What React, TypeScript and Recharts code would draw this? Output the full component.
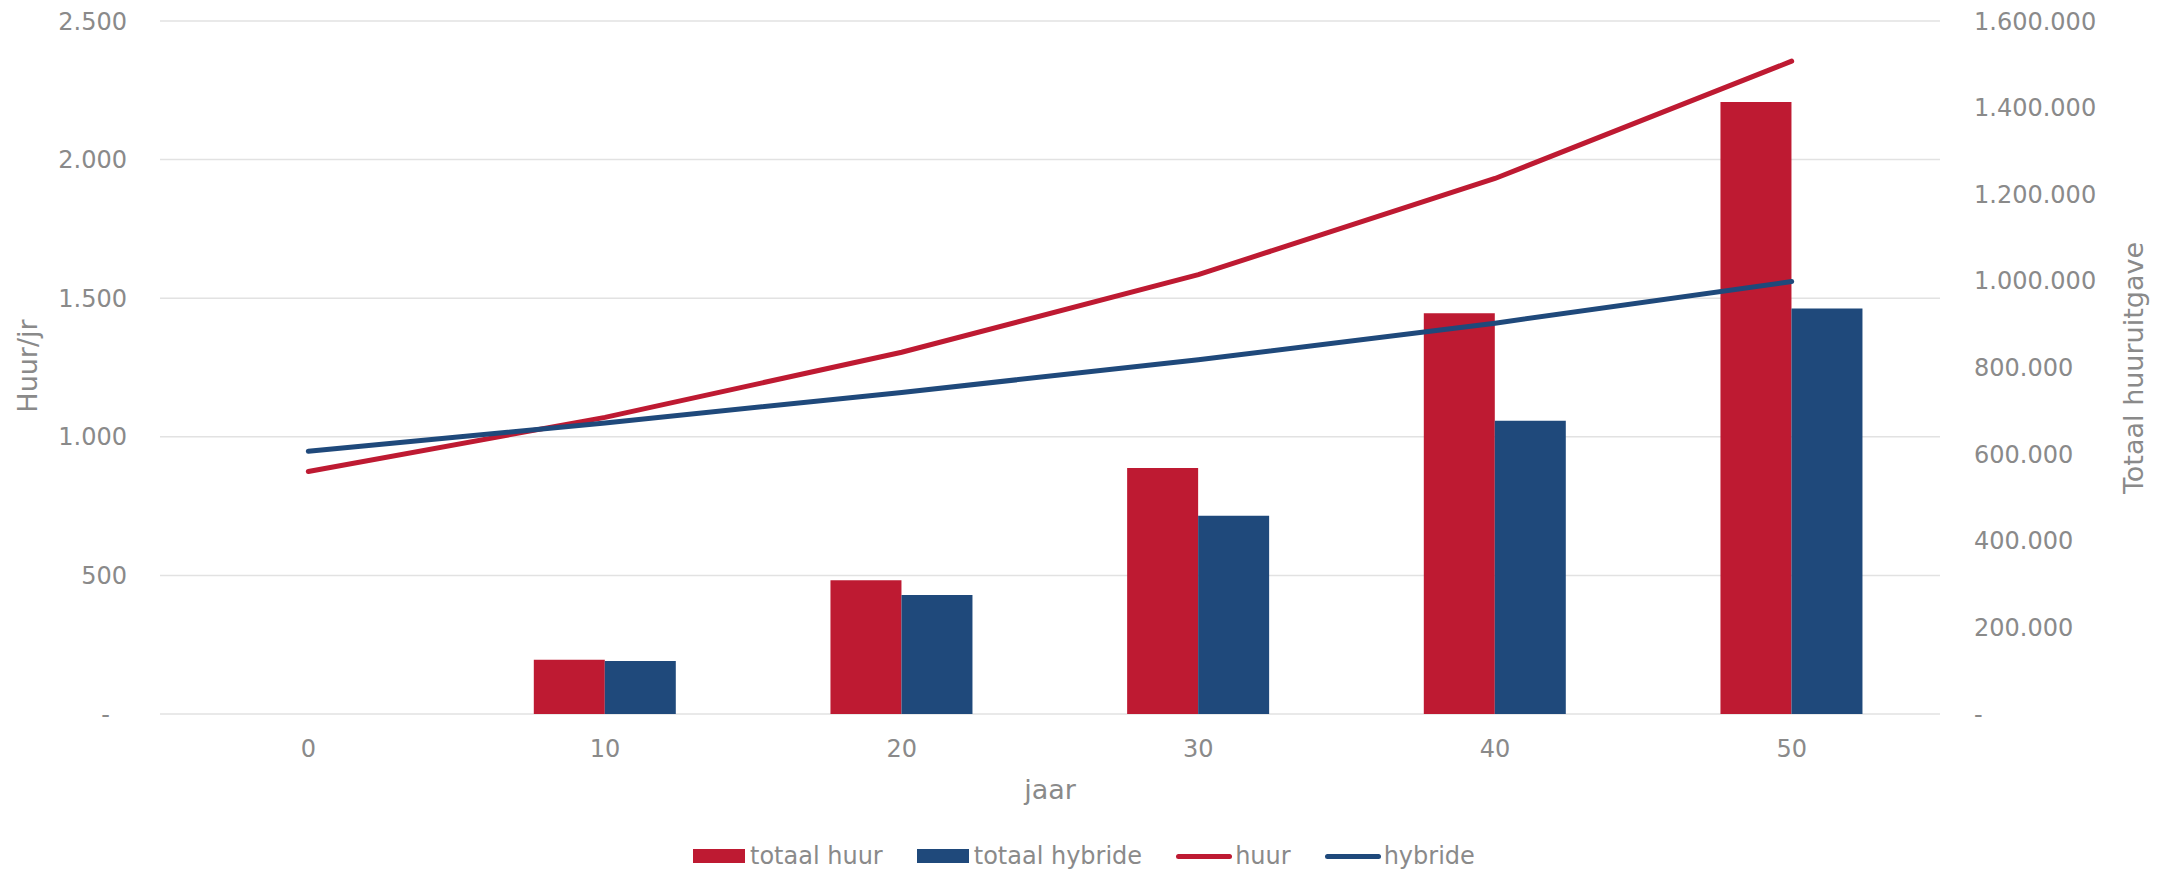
import React from "react";
import {
  ComposedChart,
  Bar,
  Line,
  XAxis,
  YAxis,
  CartesianGrid,
} from "recharts";

// years on the horizontal axis
const jaren = ["0", "10", "20", "30", "40", "50"];

// yearly rent (left axis)
const huur = [875, 1070, 1305, 1585, 1932, 2355];
const hybride = [948, 1050, 1160, 1278, 1410, 1560];

// cumulative spend (right axis)
const totaalHuur = [0, 125000, 309000, 568000, 925000, 1413000];
const totaalHybride = [0, 122500, 275000, 458000, 677000, 936000];

const leftTicks = [0, 500, 1000, 1500, 2000, 2500];
const rightTicks = [0, 200000, 400000, 600000, 800000, 1000000, 1200000, 1400000, 1600000];

const RED = "#BE1A32";
const BLUE = "#1F497B";
const GREY = "#8A8A8A";
const FONT = "'DejaVu Sans', Verdana, sans-serif";

const data = jaren.map((jaar, i) => ({
  jaar,
  huur: huur[i],
  hybride: hybride[i],
  totaalHuur: totaalHuur[i],
  totaalHybride: totaalHybride[i],
}));

// Dutch-style number: thousands with dots, zero shown as a dash
const fmt = (v: number) =>
  v === 0 ? "-" : String(v).replace(/\B(?=(\d{3})+(?!\d))/g, ".");

const LeftTick = (props: any) => {
  const { x, y, payload } = props;
  const zero = payload.value === 0;
  return (
    <text
      x={x}
      y={y}
      dx={zero ? -17 : 0}
      dy="0.36em"
      textAnchor="end"
      fill={GREY}
      fontSize={24}
      fontFamily={FONT}
    >
      {fmt(payload.value)}
    </text>
  );
};

const tickStyle = { fill: GREY, fontSize: 24, fontFamily: FONT };

const titleStyle: React.CSSProperties = {
  position: "absolute",
  color: GREY,
  fontSize: 27,
  fontFamily: FONT,
  whiteSpace: "nowrap",
  lineHeight: 1,
};

const legendItems = [
  { label: "totaal huur", color: RED, kind: "bar" },
  { label: "totaal hybride", color: BLUE, kind: "bar" },
  { label: "huur", color: RED, kind: "line" },
  { label: "hybride", color: BLUE, kind: "line" },
];

export default function App() {
  return (
    <div
      style={{
        position: "absolute",
        left: 0,
        top: 0,
        width: 2176,
        height: 872,
        background: "#fff",
        fontFamily: FONT,
      }}
    >
      <ComposedChart
        width={2176}
        height={872}
        data={data}
        margin={{ top: 21, right: 0, bottom: 0, left: 0 }}
        barCategoryGap="26%"
        barGap={0}
      >
        <CartesianGrid
          yAxisId="left"
          vertical={false}
          stroke="#E2E2E2"
          strokeWidth={1.5}
        />
        <XAxis
          dataKey="jaar"
          height={158}
          axisLine={false}
          tickLine={false}
          tickSize={0}
          tickMargin={26}
          tick={tickStyle}
        />
        <YAxis
          yAxisId="left"
          orientation="left"
          width={160}
          domain={[0, 2500]}
          ticks={leftTicks}
          axisLine={false}
          tickLine={false}
          tickSize={0}
          tickMargin={33}
          tick={<LeftTick />}
        />
        <YAxis
          yAxisId="right"
          orientation="right"
          width={236}
          domain={[0, 1600000]}
          ticks={rightTicks}
          tickFormatter={fmt}
          axisLine={false}
          tickLine={false}
          tickSize={0}
          tickMargin={34}
          tick={tickStyle}
        />
        <Bar yAxisId="right" dataKey="totaalHuur" fill={RED} isAnimationActive={false} />
        <Bar yAxisId="right" dataKey="totaalHybride" fill={BLUE} isAnimationActive={false} />
        <Line
          yAxisId="left"
          type="linear"
          dataKey="huur"
          stroke={RED}
          strokeWidth={5}
          strokeLinecap="round"
          dot={false}
          activeDot={false}
          isAnimationActive={false}
        />
        <Line
          yAxisId="left"
          type="linear"
          dataKey="hybride"
          stroke={BLUE}
          strokeWidth={5}
          strokeLinecap="round"
          dot={false}
          activeDot={false}
          isAnimationActive={false}
        />
      </ComposedChart>

      {/* axis titles */}
      <div
        style={{
          ...titleStyle,
          left: 27,
          top: 366,
          transform: "translate(-50%, -50%) rotate(-90deg)",
        }}
      >
        Huur/jr
      </div>
      <div
        style={{
          ...titleStyle,
          left: 2133,
          top: 368,
          transform: "translate(-50%, -50%) rotate(-90deg)",
        }}
      >
        Totaal huuruitgave
      </div>
      <div
        style={{
          ...titleStyle,
          left: 1050,
          top: 789,
          transform: "translate(-50%, -50%)",
        }}
      >
        jaar
      </div>

      {/* legend */}
      <div
        style={{
          position: "absolute",
          left: 693,
          top: 856,
          transform: "translateY(-50%)",
          display: "flex",
          alignItems: "center",
          color: GREY,
          fontSize: 24,
          lineHeight: 1,
          whiteSpace: "nowrap",
        }}
      >
        {legendItems.map((item, i) => (
          <div
            key={item.label}
            style={{
              display: "flex",
              alignItems: "center",
              marginLeft: i === 0 ? 0 : 34,
            }}
          >
            {item.kind === "bar" ? (
              <div style={{ width: 52, height: 14, background: item.color }} />
            ) : (
              <div
                style={{
                  width: 56,
                  height: 5,
                  borderRadius: 3,
                  background: item.color,
                }}
              />
            )}
            <span style={{ marginLeft: item.kind === "bar" ? 5 : 3 }}>{item.label}</span>
          </div>
        ))}
      </div>
    </div>
  );
}
